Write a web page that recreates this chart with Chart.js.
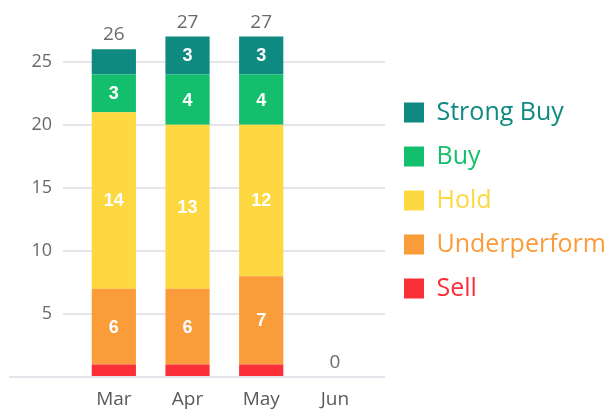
<!DOCTYPE html>
<html>
<head>
<meta charset="utf-8">
<script src="https://cdn.jsdelivr.net/npm/chart.js@4"></script>
<style>
  html, body { margin: 0; padding: 0; background: #fff; overflow: hidden; }
  #wrap { width: 614px; height: 409px; }
  canvas { display: block; }
</style>
</head>
<body>
<div id="wrap"><canvas id="recChart" width="614" height="409"></canvas></div>
<script>
// Data
const months = ["Mar", "Apr", "May", "Jun"];
const sell = [1, 1, 1, 0];
const underperform = [6, 6, 7, 0];
const hold = [14, 13, 12, 0];
const buy = [3, 4, 4, 0];
const strongBuy = [2, 3, 3, 0];
const yTicks = [0, 5, 10, 15, 20, 25];

// Colors
const colors = {
    sell: "#fb2f38",
    underperform: "#fb9c3a",
    hold: "#fdd840",
    buy: "#13bf6c",
    strongBuy: "#0f8a80"
};

const toPoints = arr => arr.map((v, i) => ({ x: i, y: v }));

// Draws segment values and totals on top of bars
const barLabels = {
    id: "barLabels",
    afterDatasetsDraw(chart) {
        const ctx = chart.ctx;
        const yScale = chart.scales.y;
        ctx.save();
        ctx.textAlign = "center";
        ctx.textBaseline = "middle";

        // values inside segments
        ctx.font = "bold 18px 'Liberation Sans', Arial, sans-serif";
        ctx.fillStyle = "#ffffff";
        chart.data.datasets.forEach((ds, di) => {
            const meta = chart.getDatasetMeta(di);
            meta.data.forEach((bar, i) => {
                const v = ds.data[i].y;
                if (v >= 3) {
                    ctx.fillText(String(v), bar.x, (bar.y + bar.base) / 2 + 1);
                }
            });
        });

        // totals
        ctx.font = "19px 'Open Sans', sans-serif";
        ctx.fillStyle = "#6b6b6b";
        ctx.textBaseline = "alphabetic";
        const xScale = chart.scales.x;
        months.forEach((m, i) => {
            let total = 0;
            chart.data.datasets.forEach(ds => { total += ds.data[i].y; });
            const top = yScale.getPixelForValue(total);
            ctx.fillText(String(total), xScale.getPixelForValue(i), top - 9);
        });
        ctx.restore();
    },
    beforeDatasetsDraw(chart) {
        // baseline runs a little further left than the grid
        const ctx = chart.ctx;
        const y0 = chart.scales.y.getPixelForValue(0);
        ctx.save();
        ctx.strokeStyle = "#e4e4ea";
        ctx.lineWidth = 2;
        ctx.beginPath();
        ctx.moveTo(9, y0);
        ctx.lineTo(chart.chartArea.right, y0);
        ctx.stroke();
        ctx.restore();
    }
};

const ctx = document.getElementById("recChart").getContext("2d");

const chart = new Chart(ctx, {
    type: "bar",
    data: {
        datasets: [
            { label: "Sell", data: toPoints(sell), backgroundColor: colors.sell },
            { label: "Underperform", data: toPoints(underperform), backgroundColor: colors.underperform },
            { label: "Hold", data: toPoints(hold), backgroundColor: colors.hold },
            { label: "Buy", data: toPoints(buy), backgroundColor: colors.buy },
            { label: "Strong Buy", data: toPoints(strongBuy), backgroundColor: colors.strongBuy }
        ]
    },
    options: {
        responsive: false,
        animation: false,
        devicePixelRatio: 1,
        layout: {
            padding: { left: 32, top: 24, bottom: 0, right: 0 }
        },
        datasets: {
            bar: {
                barPercentage: 0.6,
                categoryPercentage: 1,
                borderWidth: 0
            }
        },
        scales: {
            x: {
                type: "linear",
                stacked: true,
                offset: false,
                min: -0.69,
                max: 3.68,
                afterBuildTicks: scale => {
                    scale.ticks = months.map((m, i) => ({ value: i }));
                },
                afterFit: scale => { scale.height = 32; },
                ticks: {
                    padding: 3,
                    maxRotation: 0,
                    autoSkip: false,
                    color: "#5a5a5a",
                    font: { family: "'Open Sans', sans-serif", size: 19 },
                    callback: value => months[value]
                },
                grid: { display: false },
                border: { display: false }
            },
            y: {
                stacked: true,
                min: 0,
                max: 28,
                afterBuildTicks: scale => {
                    scale.ticks = yTicks.map(v => ({ value: v }));
                },
                afterFit: scale => { scale.width = 31; },
                ticks: {
                    padding: 11,
                    color: "#666a70",
                    font: { family: "'Open Sans', sans-serif", size: 18 },
                    callback: value => value === 0 ? "" : value
                },
                grid: {
                    color: "#e4e4ea",
                    lineWidth: 2,
                    drawTicks: false
                },
                border: { display: false }
            }
        },
        plugins: {
            legend: {
                position: "right",
                fullSize: false,
                reverse: true,
                maxWidth: 229,
                labels: {
                    boxWidth: 20,
                    boxHeight: 20,
                    padding: 19,
                    font: { family: "'Open Sans', sans-serif", size: 25 },
                    generateLabels: chart => {
                        const items = Chart.defaults.plugins.legend.labels.generateLabels(chart);
                        items.forEach(item => {
                            item.fontColor = item.fillStyle;
                            item.lineWidth = 0;
                        });
                        return items;
                    }
                }
            },
            tooltip: { enabled: false }
        }
    },
    plugins: [barLabels]
});
</script>
</body>
</html>
